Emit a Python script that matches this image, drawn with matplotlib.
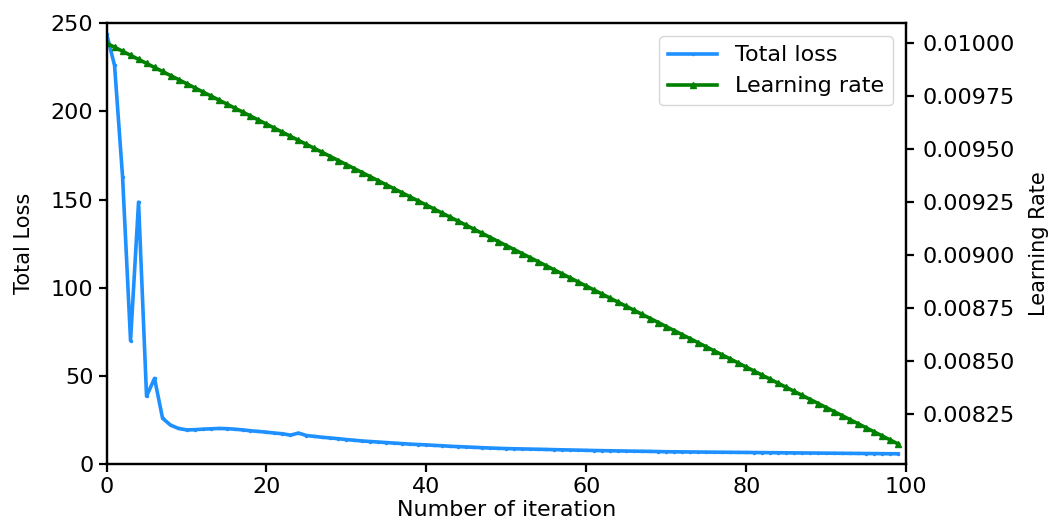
import matplotlib.pyplot as plt

# iteration index
iteration = list(range(100))

# total loss
total_loss = [
    244, 226, 163, 70, 148.5, 38.5, 48.6, 26.0, 22.1, 20.2,
    19.4, 19.5, 19.8, 20.0, 20.2, 20.1, 19.8, 19.4, 18.9, 18.5,
    18.1, 17.6, 17.2, 16.4, 17.6, 16.2, 15.7, 15.2, 14.8, 14.4,
    13.9, 13.5, 13.1, 12.8, 12.5, 12.2, 11.9, 11.6, 11.3, 11.1,
    10.9, 10.6, 10.4, 10.1, 9.9, 9.7, 9.5, 9.3, 9.1, 8.95,
    8.8, 8.7, 8.6, 8.5, 8.4, 8.3, 8.2, 8.1, 8.0, 7.9,
    7.8, 7.7, 7.62, 7.55, 7.48, 7.4, 7.33, 7.26, 7.2, 7.1,
    7.0, 6.96, 6.92, 6.88, 6.84, 6.8, 6.76, 6.72, 6.68, 6.64,
    6.6, 6.56, 6.52, 6.48, 6.44, 6.4, 6.36, 6.32, 6.28, 6.24,
    6.2, 6.16, 6.12, 6.08, 6.04, 6.0, 5.96, 5.92, 5.88, 5.84,
]

# learning rate per iteration
learning_rate = [
    0.0100000, 0.0099809, 0.0099618, 0.0099427, 0.0099236, 0.0099045, 0.0098854, 0.0098663, 0.0098472, 0.0098281,
    0.0098090, 0.0097899, 0.0097708, 0.0097517, 0.0097326, 0.0097135, 0.0096944, 0.0096753, 0.0096562, 0.0096371,
    0.0096180, 0.0095989, 0.0095798, 0.0095607, 0.0095416, 0.0095225, 0.0095034, 0.0094843, 0.0094652, 0.0094461,
    0.0094270, 0.0094079, 0.0093888, 0.0093697, 0.0093506, 0.0093315, 0.0093124, 0.0092933, 0.0092742, 0.0092551,
    0.0092360, 0.0092169, 0.0091978, 0.0091787, 0.0091596, 0.0091405, 0.0091214, 0.0091023, 0.0090832, 0.0090641,
    0.0090450, 0.0090259, 0.0090068, 0.0089877, 0.0089686, 0.0089495, 0.0089304, 0.0089113, 0.0088922, 0.0088731,
    0.0088540, 0.0088349, 0.0088158, 0.0087967, 0.0087776, 0.0087585, 0.0087394, 0.0087203, 0.0087012, 0.0086821,
    0.0086630, 0.0086439, 0.0086248, 0.0086057, 0.0085866, 0.0085675, 0.0085484, 0.0085293, 0.0085102, 0.0084911,
    0.0084720, 0.0084529, 0.0084338, 0.0084147, 0.0083956, 0.0083765, 0.0083574, 0.0083383, 0.0083192, 0.0083001,
    0.0082810, 0.0082619, 0.0082428, 0.0082237, 0.0082046, 0.0081855, 0.0081664, 0.0081473, 0.0081282, 0.0081091,
]

plt.rcParams['font.family'] = ['DejaVu Sans']
plt.rcParams['font.size'] = 16

fig, ax1 = plt.subplots(figsize=(10.55, 5.25), dpi=100)
fig.subplots_adjust(left=0.101, right=0.859, top=0.956, bottom=0.116)

l1, = ax1.plot(iteration, total_loss, color='dodgerblue', linewidth=2.6,
               marker='.', markersize=3, label='Total loss')
ax1.set_xlim(0, 100)
ax1.set_ylim(0, 250)
ax1.set_xlabel('Number of iteration', fontsize=16, labelpad=2)
ax1.set_ylabel('Total Loss', fontsize=15, labelpad=12)

ax2 = ax1.twinx()
l2, = ax2.plot(iteration, learning_rate, color='green', linewidth=2.6,
               marker='^', markersize=4.5, label='Learning rate')
ax2.ticklabel_format(axis='y', useOffset=False)
ax2.set_ylabel('Learning Rate', fontsize=15, labelpad=10)

for ax in (ax1, ax2):
    for s in ax.spines.values():
        s.set_linewidth(1.6)
    ax.tick_params(width=1.6, length=6, labelsize=16)
ax2.tick_params(pad=6)

ax1.legend(handles=[l1, l2], loc='upper right', fontsize=16,
           handlelength=2.2, borderaxespad=0.6)

plt.savefig('out.png', dpi=100)
